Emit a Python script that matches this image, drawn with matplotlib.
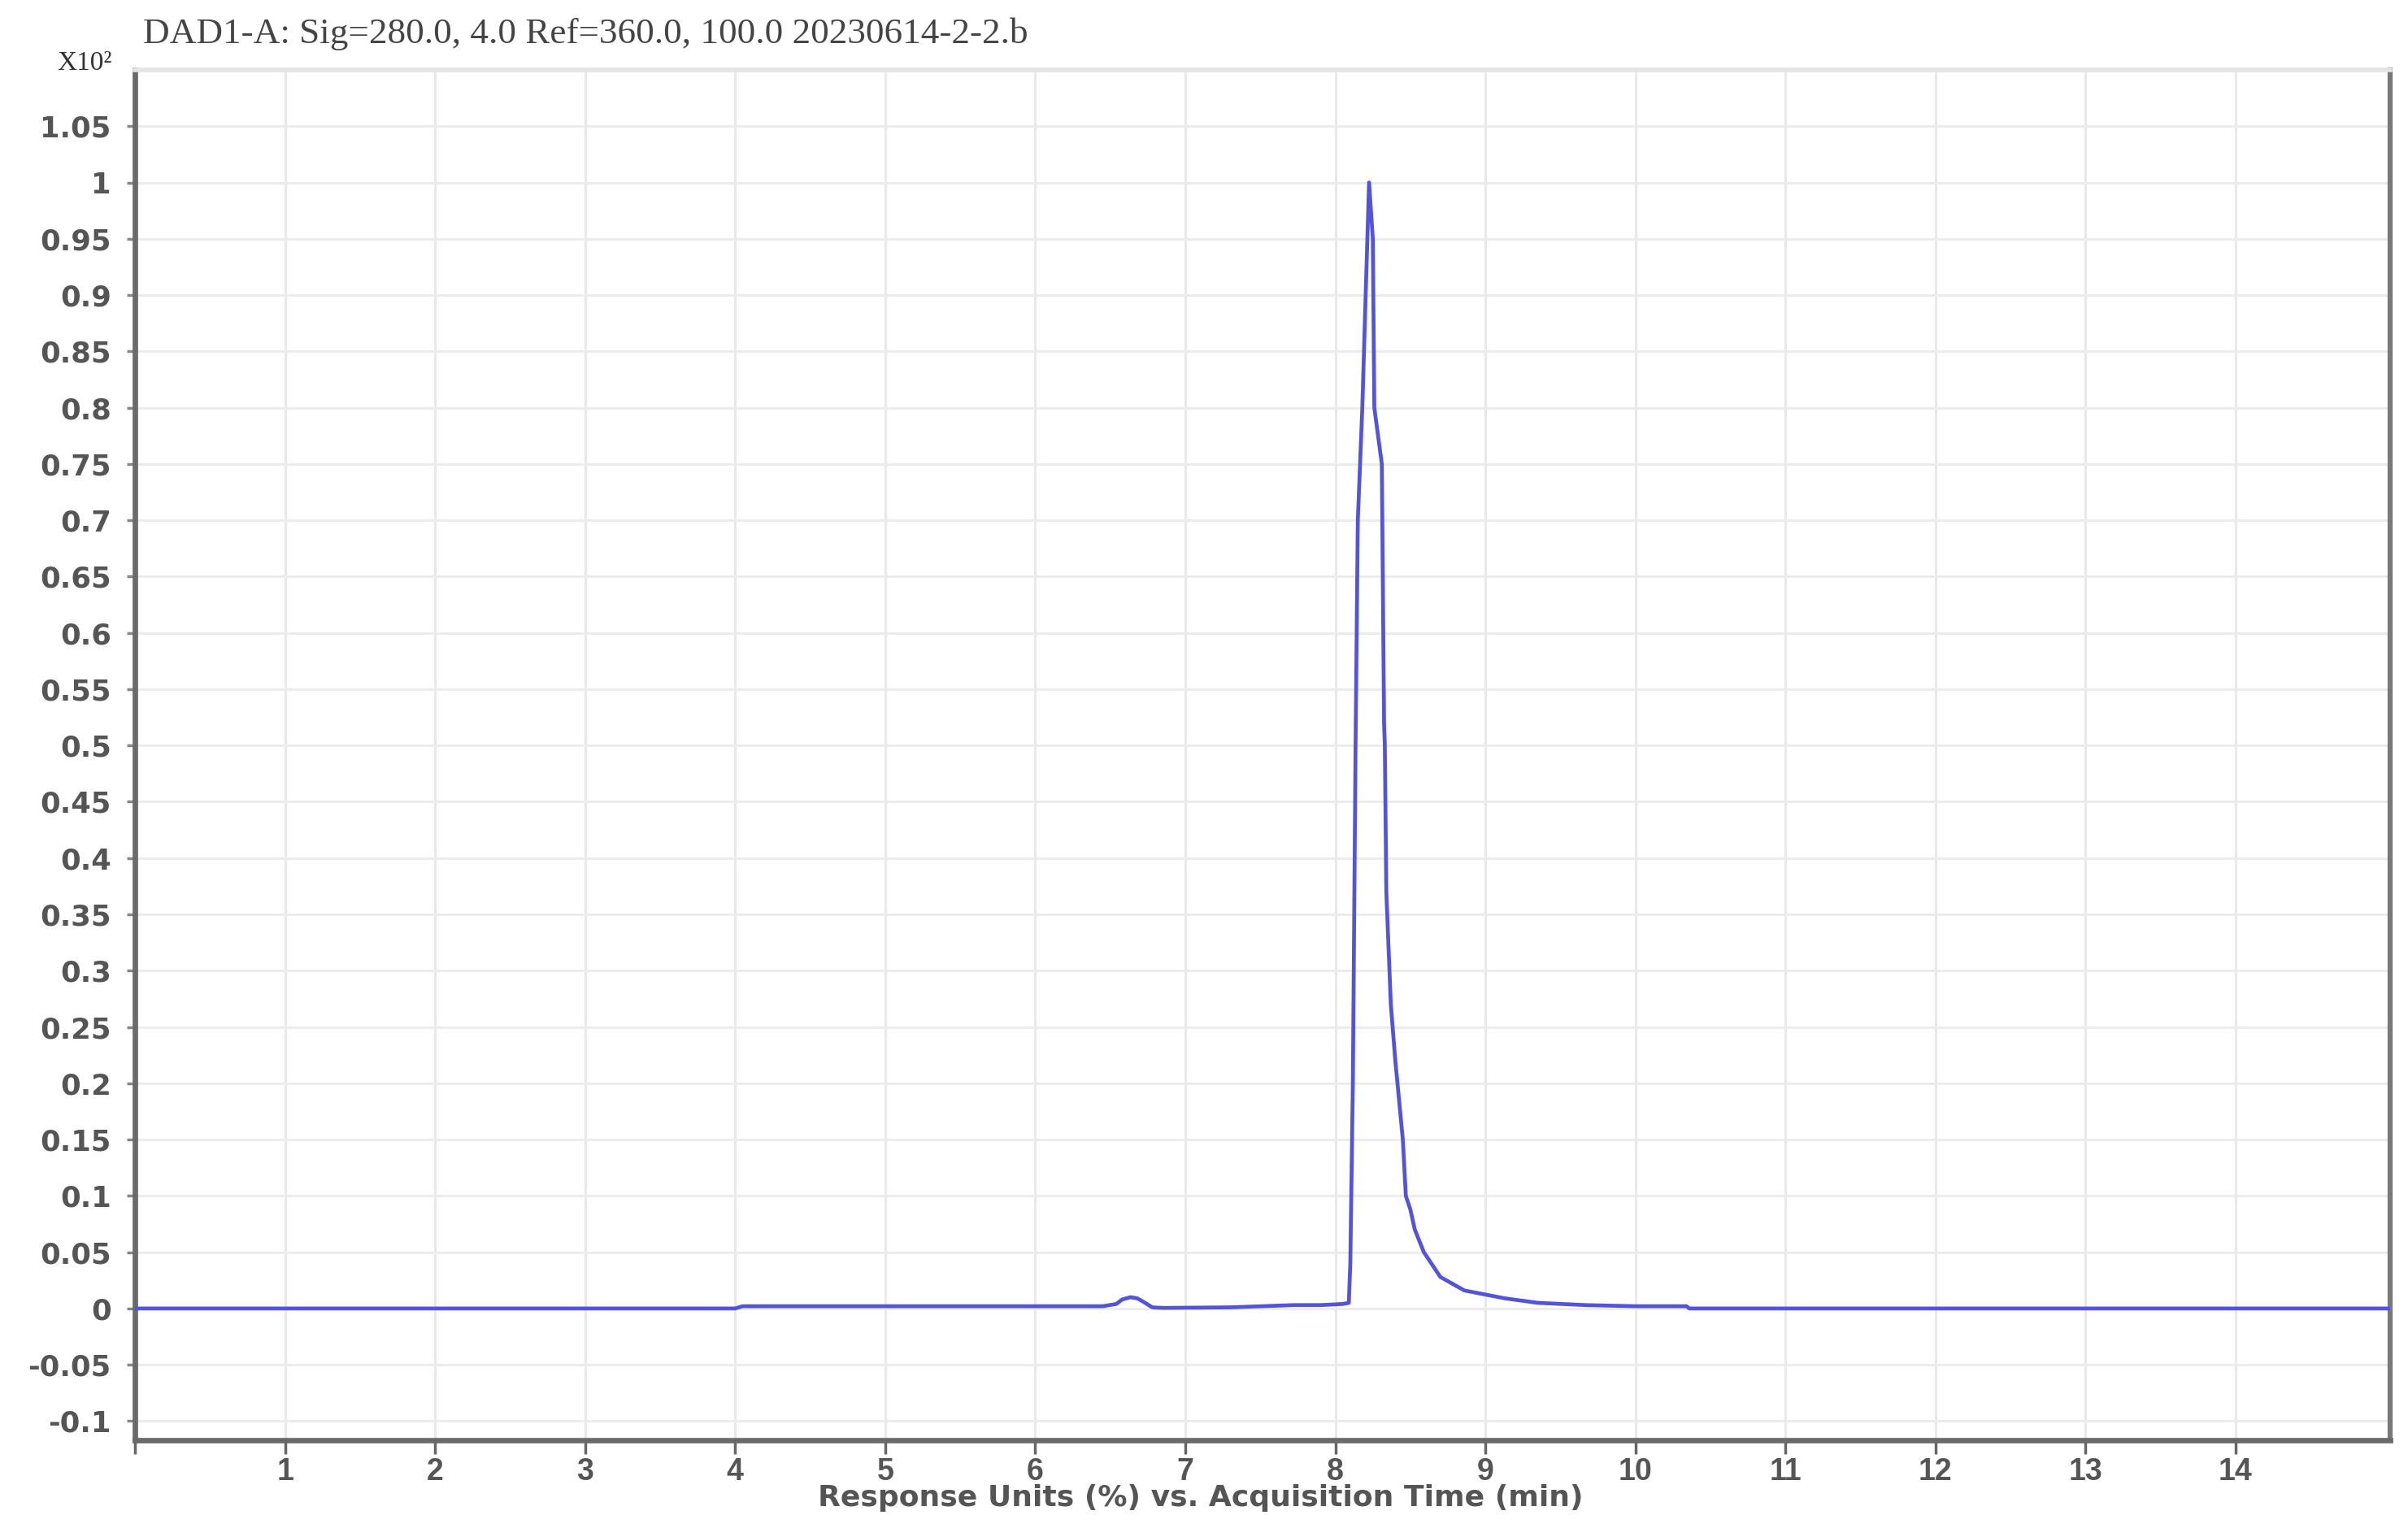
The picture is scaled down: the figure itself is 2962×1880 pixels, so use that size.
import matplotlib
matplotlib.use("Agg")
import matplotlib.pyplot as plt
import numpy as np

# ---- data ----
time_min = [0.0, 4.0, 4.05, 5.0, 6.0, 6.45, 6.54, 6.58, 6.635, 6.68, 6.72, 6.78, 6.85,
            7.3, 7.72, 7.9, 8.05, 8.09, 8.10, 8.117, 8.135, 8.15, 8.18, 8.20, 8.225,
            8.25, 8.26, 8.31, 8.325, 8.33, 8.34, 8.37, 8.40, 8.45, 8.47, 8.50, 8.53,
            8.59, 8.70, 8.86, 9.13, 9.35, 9.67, 10.0, 10.34, 10.36, 15.03]
response = [0.0, 0.0, 0.002, 0.002, 0.002, 0.002, 0.004, 0.008, 0.010, 0.009, 0.006, 0.001, 0.0005,
            0.001, 0.003, 0.003, 0.004, 0.005, 0.04, 0.20, 0.50, 0.70, 0.80, 0.89, 1.0,
            0.95, 0.80, 0.75, 0.52, 0.50, 0.37, 0.27, 0.22, 0.15, 0.10, 0.088, 0.07,
            0.05, 0.028, 0.016, 0.009, 0.005, 0.003, 0.002, 0.002, 0.0, 0.0]

x_ticks = list(range(0, 15))
x_tick_labels = [""] + [str(i) for i in range(1, 15)]
y_ticks = [round(-0.1 + 0.05 * i, 2) for i in range(24)]
y_tick_labels = ["-0.1", "-0.05", "0", "0.05", "0.1", "0.15", "0.2", "0.25", "0.3", "0.35",
                 "0.4", "0.45", "0.5", "0.55", "0.6", "0.65", "0.7", "0.75", "0.8", "0.85",
                 "0.9", "0.95", "1", "1.05"]

title_text = "DAD1-A: Sig=280.0, 4.0 Ref=360.0, 100.0 20230614-2-2.b"
xlabel_text = "Response Units (%) vs. Acquisition Time (min)"
scale_text = "X10²"

W, H = 2962, 1880
fig = plt.figure(figsize=(W / 100, H / 100), dpi=100)
ax = fig.add_axes([166 / W, 1 - 1772 / H, (2940 - 166) / W, (1772 - 86) / H])

ax.set_xlim(0, 15.03)
ax.set_ylim(-0.117, 1.100)

# grid
for xv in x_ticks[1:]:
    ax.axvline(xv, color="#e9e9e9", lw=2.2, zorder=0)
for yv in y_ticks:
    ax.axhline(yv, color="#ececec", lw=2.2, zorder=0)

ax.plot(time_min, response, color="#5454d8", lw=3.4, zorder=3, solid_joinstyle="round")

ax.set_xticks(x_ticks)
ax.set_xticklabels(x_tick_labels)
ax.set_yticks(y_ticks)
ax.set_yticklabels(y_tick_labels)

for lab in ax.get_yticklabels():
    lab.set_fontfamily(["DejaVu Sans"])
    lab.set_fontweight("bold")
    lab.set_fontsize(25.5)
    lab.set_color("#555555")
for lab in ax.get_xticklabels():
    lab.set_fontfamily(["Liberation Sans", "DejaVu Sans"])
    lab.set_fontweight("bold")
    lab.set_fontsize(27)
    lab.set_color("#555555")

ax.tick_params(axis="y", direction="out", length=7, width=2.5, color="#888888", pad=14)
ax.tick_params(axis="x", direction="out", length=12, width=2.5, color="#666666", pad=3)

for side in ["left", "bottom"]:
    ax.spines[side].set_color("#6a6a6a")
    ax.spines[side].set_linewidth(4.8)
ax.spines["right"].set_color("#7a7a7a")
ax.spines["right"].set_linewidth(4.5)
ax.spines["top"].set_color("#e4e4e4")
ax.spines["top"].set_linewidth(4.0)

fig.text(176 / W, 1 - 42 / H, title_text, family=["Liberation Serif", "DejaVu Serif"],
         fontsize=32.5, color="#444444", ha="left", va="center")
fig.text(104 / W, 1 - 78 / H, scale_text, family=["Liberation Serif", "DejaVu Serif"],
         fontsize=24, color="#333333", ha="center", va="center")
fig.text(1477 / W, 1 - 1843 / H, xlabel_text, family=["DejaVu Sans"],
         weight="bold", fontsize=26, color="#555555", ha="center", va="center")

fig.savefig("out.png", dpi=100, facecolor="white")
